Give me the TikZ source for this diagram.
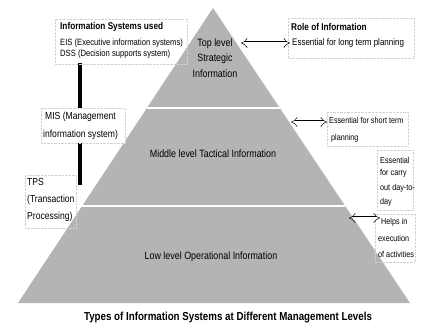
\documentclass[tikz,border=0pt]{standalone}
\usepackage{fontspec}
\setmainfont{Liberation Sans}[FakeStretch=0.84]
\usetikzlibrary{arrows.meta,calc}
\definecolor{pyrgray}{HTML}{B4B4B4}
\tikzset{
  txt/.style={inner sep=0pt, anchor=west, font=\fontsize{8.6}{10}\selectfont},
  ltxt/.style={inner sep=0pt, anchor=west, font=\fontsize{10.2}{12}\selectfont},
  btxt/.style={inner sep=0pt, anchor=west, font=\fontsize{9.8}{11}\bfseries\selectfont},
  ptxt/.style={inner sep=0pt, align=center, font=\fontsize{10.6}{15.5}\selectfont},
  tbox/.style={draw=gray!35, densely dotted, line width=0.4pt},
  dblarrow/.style={draw=black, line width=0.5pt, double=white, double distance=3pt, {Implies[length=5pt]}-{Implies[length=5pt]}},
  divline/.style={draw=white, line width=2pt}
}
\begin{document}
\begin{tikzpicture}[x=1pt,y=-1pt]
\useasboundingbox (0,0) rectangle (422,327);
% pyramid
\coordinate (A) at (213,8);
\coordinate (BL) at (18,303);
\coordinate (BR) at (410,303);
\fill[pyrgray] (A) -- (BR) -- (BL) -- cycle;
\draw[divline] ($(A)!0.339!(BL)$) -- ($(A)!0.339!(BR)$);
\draw[divline] ($(A)!0.671!(BL)$) -- ($(A)!0.671!(BR)$);
% pyramid texts
\node[ptxt] (top) at (215,58) {Top level\\Strategic\\Information};
\node[ptxt] (mid) at (213,154) {Middle level Tactical Information};
\node[ptxt] (low) at (211,257) {Low level Operational Information};
% vertical bar
\coordinate (barT) at (80,63);
\coordinate (barB) at (80,185);
\draw[line width=3.5pt] (barT) -- (barB);
% left boxes
\draw[tbox] (55,19) rectangle (187,64);
\node[btxt] (isu1) at (60,27) {Information Systems used};
\node[txt, font=\fontsize{9.1}{10}\selectfont] (isu2) at (60,43) {EIS (Executive information systems)};
\node[txt, font=\fontsize{9.1}{10}\selectfont] (isu3) at (60,54) {DSS (Decision supports system)};
\filldraw[tbox, fill=white] (41,108) rectangle (125,143);
\node[ltxt] (mis1) at (45,117) {MIS (Management};
\node[ltxt] (mis2) at (43,135) {information system)};
\draw[tbox] (25,175) rectangle (76,228);
\node[ltxt] (tps1) at (27,182) {TPS};
\node[ltxt] (tps2) at (27,200) {(Transaction};
\node[ltxt] (tps3) at (27,217) {Processing)};
% right boxes
\draw[tbox] (288,18) rectangle (414,58);
\node[btxt] (role1) at (291,27) {Role of Information};
\node[txt, font=\fontsize{9.5}{10}\selectfont] (role2) at (292,43) {Essential for long term planning};
\draw[tbox] (327,112) rectangle (408,146);
\node[txt] (st1) at (329,120) {Essential for short term};
\node[txt] (st2) at (331,138) {planning};
\draw[tbox] (377,150) rectangle (413,210);
\node[txt] (dd1) at (380,160) {Essential};
\node[txt] (dd2) at (380,173) {for carry};
\node[txt] (dd3) at (380,188) {out day-to-};
\node[txt] (dd4) at (380,202) {day};
\draw[tbox] (375,214) rectangle (415,262);
\node[txt] (hp1) at (381,222) {Helps in};
\node[txt] (hp2) at (378,238) {execution};
\node[txt] (hp3) at (378,254) {of activities};
% arrows
\coordinate (e1) at (241,43);
\coordinate (e2) at (291,122);
\coordinate (e3) at (349,218);
\draw[dblarrow] (e1) -- ($(role2.west)+(-2,0)$);
\draw[dblarrow] (e2) -- ($(st1.west)+(-2,2)$);
\coordinate (e3b) at (380,218);
\draw[dblarrow] (e3) -- (e3b);
% title
\node[inner sep=0pt, font=\fontsize{11.6}{13}\bfseries\selectfont] (title) at (228,318) {Types of Information Systems at Different Management Levels};
\end{tikzpicture}
\end{document}
